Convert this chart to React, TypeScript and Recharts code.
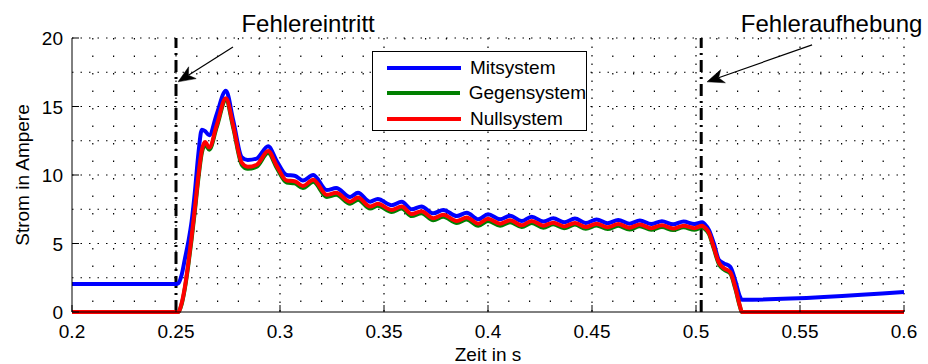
import {
  LineChart,
  Line,
  XAxis,
  YAxis,
  CartesianGrid,
  ReferenceLine,
  ReferenceDot,
  Legend,
  Label,
} from 'recharts';

// Zeitachse (s) und Stromverläufe (A) der symmetrischen Komponenten
const timeS = [
  0.2, 0.25, 0.2511, 0.2527, 0.2543, 0.2559, 0.2575, 0.2591, 0.2608, 0.2624,
  0.264, 0.266, 0.2695, 0.274, 0.2775, 0.2816, 0.2845, 0.2888, 0.2943, 0.2985,
  0.3032, 0.307, 0.311, 0.316, 0.3225, 0.327, 0.3337, 0.3375, 0.3433, 0.347,
  0.3537, 0.3585, 0.3633, 0.368, 0.3737, 0.3785, 0.385, 0.3898, 0.3953, 0.4,
  0.4058, 0.4106, 0.4162, 0.421, 0.4266, 0.4314, 0.4366, 0.4418, 0.447, 0.4522,
  0.4575, 0.4626, 0.468, 0.473, 0.4785, 0.4836, 0.489, 0.494, 0.4992, 0.503,
  0.5043, 0.5062, 0.5086, 0.511, 0.5134, 0.5165, 0.5188, 0.5212, 0.522, 0.6,
];

const mitsystem = [
  2.05, 2.05, 2.1, 2.7, 3.9, 5.1, 6.6, 8.8, 11.6, 13.3,
  13.2, 12.9, 14.4, 16.15, 14.0, 11.3, 11.1, 11.2, 12.1, 11.0,
  10.0, 9.95, 9.6, 10.0, 8.9, 9.05, 8.4, 8.7, 8.05, 8.25,
  7.8, 8.05, 7.5, 7.7, 7.2, 7.45, 7.0, 7.25, 6.77, 7.13,
  6.77, 7.03, 6.64, 6.96, 6.6, 6.84, 6.55, 6.82, 6.5, 6.75,
  6.48, 6.72, 6.45, 6.68, 6.42, 6.62, 6.4, 6.6, 6.42, 6.55,
  6.4, 6.0, 5.0, 3.8, 3.55, 3.3, 2.33, 1.1, 0.9, 1.46,
];

const gegensystem = [
  0, 0, 0, 0.55, 1.75, 3.4, 5.3, 7.4, 9.8, 11.6,
  12.2, 11.85, 13.45, 15.45, 13.45, 10.75, 10.45, 10.6, 11.6, 10.5,
  9.45, 9.4, 9.05, 9.5, 8.4, 8.55, 7.9, 8.2, 7.55, 7.75,
  7.3, 7.55, 7.0, 7.2, 6.7, 6.95, 6.5, 6.75, 6.3, 6.65,
  6.3, 6.55, 6.2, 6.5, 6.15, 6.4, 6.12, 6.38, 6.08, 6.32,
  6.05, 6.3, 6.02, 6.26, 6.0, 6.2, 5.98, 6.18, 6.0, 6.18,
  6.05, 5.7, 4.6, 3.5, 3.1, 2.8, 1.75, 0.35, 0, 0,
];

const nullsystem = [
  0, 0, 0, 0.63, 1.85, 3.55, 5.5, 7.6, 10.0, 11.8,
  12.4, 12.0, 13.6, 15.6, 13.6, 10.9, 10.6, 10.75, 11.75, 10.65,
  9.6, 9.55, 9.2, 9.65, 8.55, 8.7, 8.05, 8.35, 7.7, 7.9,
  7.45, 7.7, 7.15, 7.35, 6.85, 7.1, 6.65, 6.9, 6.45, 6.8,
  6.45, 6.7, 6.33, 6.65, 6.3, 6.52, 6.25, 6.5, 6.2, 6.45,
  6.18, 6.42, 6.15, 6.38, 6.12, 6.33, 6.1, 6.3, 6.12, 6.3,
  6.15, 5.8, 4.7, 3.6, 3.2, 2.9, 1.85, 0.4, 0, 0,
];

const xTicks = [0.2, 0.25, 0.3, 0.35, 0.4, 0.45, 0.5, 0.55, 0.6];
const yTicks = [0, 5, 10, 15, 20];
const gridYValues = [2.5, 5, 7.5, 10, 12.5, 15, 17.5, 20];
const gridXMajor = [0.25, 0.3, 0.35, 0.4, 0.45, 0.5, 0.55, 0.6];
const gridXMinor = [
  0.21, 0.22, 0.23, 0.24, 0.26, 0.27, 0.28, 0.29, 0.31, 0.32, 0.33, 0.34,
  0.36, 0.37, 0.38, 0.39, 0.41, 0.42, 0.43, 0.44, 0.46, 0.47, 0.48, 0.49,
  0.51, 0.52, 0.53, 0.54, 0.56, 0.57, 0.58, 0.59,
];

// Fehlereintritt / Fehleraufhebung
const eventTimes = [0.25, 0.5025];
const eventLabels = ['Fehlereintritt', 'Fehleraufhebung'];
const eventLabelPos = [
  [0.3135, 20.44],
  [0.5652, 20.44],
];
const arrowFrom = [
  [0.2774, 19.35],
  [0.5558, 19.5],
];
const arrowTo = [
  [0.251, 16.8],
  [0.5053, 16.8],
];

const chartData = timeS.map((t, i) => ({
  t,
  mit: mitsystem[i],
  gegen: gegensystem[i],
  null: nullsystem[i],
}));

const FONT = '"Liberation Sans", Arial, Helvetica, sans-serif';

const legendItems = [
  { name: 'Mitsystem', color: '#0000ff' },
  { name: 'Gegensystem', color: '#008000' },
  { name: 'Nullsystem', color: '#ff0000' },
];

const XTick = ({ x, y, payload }: any) => (
  <g>
    <line x1={x} y1={y} x2={x} y2={y - 7} stroke="#000" strokeWidth={1} />
    <text x={x} y={y + 26} textAnchor="middle" fontSize={19} fontFamily={FONT} fill="#000">
      {String(payload.value)}
    </text>
  </g>
);

const YTick = ({ x, y, payload }: any) => (
  <g>
    <line x1={x} y1={y} x2={x + 7} y2={y} stroke="#000" strokeWidth={1} />
    <text x={x - 9} y={y + 7} textAnchor="end" fontSize={19} fontFamily={FONT} fill="#000">
      {String(payload.value)}
    </text>
  </g>
);

const Arrow = ({ x1, y1, x2, y2 }: any) => {
  if ([x1, y1, x2, y2].some(v => typeof v !== 'number')) return null;
  const dx = x2 - x1;
  const dy = y2 - y1;
  const len = Math.sqrt(dx * dx + dy * dy) || 1;
  const ux = dx / len;
  const uy = dy / len;
  const headL = 17;
  const headW = 7;
  const bx = x2 - ux * headL;
  const by = y2 - uy * headL;
  const nx = x2 - ux * headL * 0.72;
  const ny = y2 - uy * headL * 0.72;
  const pts = [
    [x2, y2],
    [bx - uy * headW, by + ux * headW],
    [nx, ny],
    [bx + uy * headW, by - ux * headW],
  ]
    .map(p => p.join(','))
    .join(' ');
  return (
    <g>
      <line x1={x1} y1={y1} x2={nx} y2={ny} stroke="#000" strokeWidth={1.2} />
      <polygon points={pts} fill="#000" stroke="#000" strokeWidth={0.5} />
    </g>
  );
};

const LegendBox = () => (
  <div
    style={{
      width: 215,
      height: 80,
      border: '1.5px solid #000',
      background: '#fff',
      boxSizing: 'border-box',
      fontFamily: FONT,
      fontSize: 19,
      paddingTop: 3,
    }}
  >
    {legendItems.map(item => (
      <div key={item.name} style={{ display: 'flex', alignItems: 'center', height: 25.5 }}>
        <div
          style={{
            width: 74,
            height: 4,
            background: item.color,
            marginLeft: 14,
            marginRight: 9,
          }}
        />
        <span style={{ color: '#000' }}>{item.name}</span>
      </div>
    ))}
  </div>
);

export default function App() {
  return (
    <div style={{ position: 'absolute', left: 0, top: 0, width: 928, height: 364, background: '#fff' }}>
      <LineChart
        width={928}
        height={364}
        data={chartData}
        margin={{ top: 38, right: 24, bottom: 0, left: 12 }}
      >
        <CartesianGrid
          horizontal={false}
          vertical
          verticalValues={gridXMinor}
          stroke="#000"
          strokeWidth={1.2}
          strokeDasharray="1.5 16"
        />
        <CartesianGrid
          horizontal
          vertical
          horizontalValues={gridYValues}
          verticalValues={gridXMajor}
          stroke="#000"
          strokeWidth={1.2}
          strokeDasharray="1.5 7"
        />
        <XAxis
          dataKey="t"
          type="number"
          domain={[0.2, 0.6]}
          ticks={xTicks}
          height={52}
          tickSize={0}
          tickMargin={0}
          tickLine={false}
          axisLine={{ stroke: '#000', strokeWidth: 1 }}
          tick={<XTick />}
          interval={0}
        >
          <Label
            content={({ viewBox }: any) => (
              <text
                x={viewBox ? viewBox.x + viewBox.width / 2 : 488}
                y={viewBox ? viewBox.y + 49 : 361}
                textAnchor="middle"
                fontSize={19}
                fontFamily={FONT}
                fill="#000"
              >
                Zeit in s
              </text>
            )}
          />
        </XAxis>
        <YAxis
          type="number"
          domain={[0, 20]}
          ticks={yTicks}
          width={60}
          tickSize={0}
          tickMargin={0}
          tickLine={false}
          axisLine={{ stroke: '#000', strokeWidth: 1 }}
          tick={<YTick />}
          interval={0}
        >
          <Label
            content={({ viewBox }: any) => {
              const cx = viewBox ? viewBox.x + 10 : 22;
              const cy = viewBox ? viewBox.y + viewBox.height / 2 : 175;
              return (
                <text
                  x={cx}
                  y={cy}
                  transform={`rotate(-90, ${cx}, ${cy})`}
                  textAnchor="middle"
                  dominantBaseline="central"
                  fontSize={19}
                  fontFamily={FONT}
                  fill="#000"
                >
                  Strom in Ampere
                </text>
              );
            }}
          />
        </YAxis>

        {eventTimes.map(t => (
          <ReferenceLine
            key={`ev-${t}`}
            x={t}
            stroke="#000"
            strokeWidth={3}
            strokeDasharray="12 5 2 5"
          />
        ))}

        <Line
          type="monotone"
          dataKey="mit"
          name="Mitsystem"
          stroke="#0000ff"
          strokeWidth={4}
          dot={false}
          isAnimationActive={false}
        />
        <Line
          type="monotone"
          dataKey="gegen"
          name="Gegensystem"
          stroke="#008000"
          strokeWidth={4}
          dot={false}
          isAnimationActive={false}
        />
        <Line
          type="monotone"
          dataKey="null"
          name="Nullsystem"
          stroke="#ff0000"
          strokeWidth={4}
          dot={false}
          isAnimationActive={false}
        />

        {eventLabels.map((_, i) => (
          <ReferenceLine
            key={`arrow-${i}`}
            segment={[
              { x: arrowFrom[i][0], y: arrowFrom[i][1] },
              { x: arrowTo[i][0], y: arrowTo[i][1] },
            ]}
            ifOverflow="visible"
            shape={(props: any) => <Arrow {...props} />}
          />
        ))}
        {eventLabels.map((label, i) => (
          <ReferenceDot
            key={`label-${i}`}
            x={eventLabelPos[i][0]}
            y={eventLabelPos[i][1]}
            ifOverflow="visible"
            shape={({ cx, cy }: any) => (
              <text x={cx} y={cy} textAnchor="middle" fontSize={24} fontFamily={FONT} fill="#000">
                {label}
              </text>
            )}
          />
        ))}

        <Legend
          layout="vertical"
          align="center"
          verticalAlign="middle"
          content={<LegendBox />}
          wrapperStyle={{ left: 372, top: 51, width: 215, height: 80 }}
        />
      </LineChart>
    </div>
  );
}
